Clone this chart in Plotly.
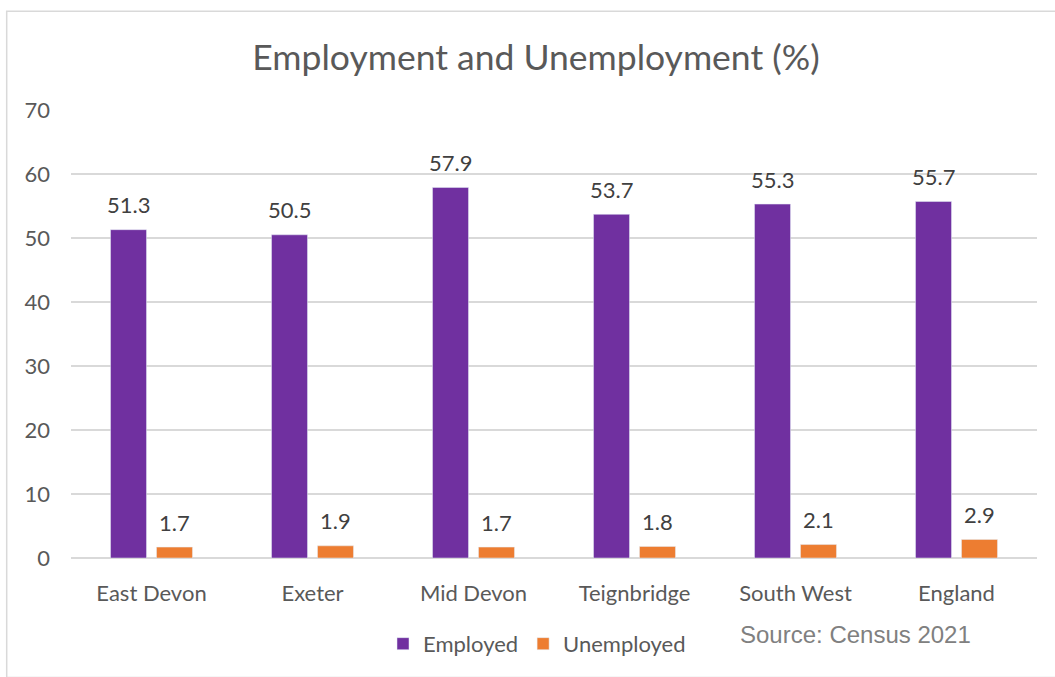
import plotly.graph_objects as go

categories = ["East Devon", "Exeter", "Mid Devon", "Teignbridge", "South West", "England"]
employed = [51.3, 50.5, 57.9, 53.7, 55.3, 55.7]
unemployed = [1.7, 1.9, 1.7, 1.8, 2.1, 2.9]
y_ticks = [0, 10, 20, 30, 40, 50, 60, 70]

W, H = 1055, 677
ML, MR, MT, MB = 71, 18, 110, 113
PW, PH = W - ML - MR, H - MT - MB

BARGAP = 0.429
BARGROUPGAP = 0.217
half_slot = (1 - BARGAP) / 4

FONT = "Lato"
PURPLE = "#7030A0"
ORANGE = "#ED7D31"

xs = list(range(len(categories)))

fig = go.Figure()
fig.add_trace(go.Bar(x=xs, y=employed, name="Employed", marker_color=PURPLE,
                     hoverinfo="y"))
fig.add_trace(go.Bar(x=xs, y=unemployed, name="Unemployed", marker_color=ORANGE,
                     hoverinfo="y"))

annotations = []
for series, sign in ((employed, -1), (unemployed, 1)):
    for i, v in enumerate(series):
        annotations.append(dict(
            x=i + sign * half_slot, y=v, xref="x", yref="y",
            text=f"{v:.1f}", showarrow=False, yanchor="middle", yshift=25,
            font=dict(family=FONT, size=22, color="#404040")))


def px_x(p):
    return (p - ML) / PW


def px_y(p):
    return (H - MB - p) / PH


annotations.append(dict(
    x=px_x(855), y=px_y(642), xref="paper", yref="paper",
    text="Source: Census 2021", showarrow=False, xanchor="center", yanchor="middle",
    font=dict(family="Liberation Sans, Arial", size=24, color="#808080")))

fig.update_layout(
    width=W, height=H,
    margin=dict(l=ML, r=MR, t=MT, b=MB),
    paper_bgcolor="white", plot_bgcolor="white",
    barmode="group", bargap=BARGAP, bargroupgap=BARGROUPGAP,
    title=dict(text="Employment and Unemployment (%)", x=536 / W, xanchor="center",
               y=1 - 58 / H, yanchor="middle", yref="container",
               font=dict(family=FONT, size=35.5, color="#595959")),
    xaxis=dict(range=[-0.5, len(categories) - 0.5], tickmode="array", tickvals=xs,
               ticktext=categories, showgrid=False, zeroline=False, showline=False,
               ticks="", ticklabelstandoff=20,
               tickfont=dict(family=FONT, size=22, color="#595959")),
    yaxis=dict(range=[0, 70], tickmode="array", tickvals=y_ticks,
               showgrid=True, gridcolor="#D9D9D9", gridwidth=1.5,
               zeroline=True, zerolinecolor="#D9D9D9", zerolinewidth=1.5,
               showline=False, ticks="", ticklabelstandoff=20,
               tickfont=dict(family=FONT, size=22, color="#595959")),
    legend=dict(orientation="h", x=px_x(537), xanchor="center",
                y=px_y(651), yanchor="middle",
                font=dict(family=FONT, size=22, color="#595959"),
                bgcolor="rgba(0,0,0,0)"),
    annotations=annotations,
    shapes=[dict(type="rect", xref="paper", yref="paper",
                 x0=px_x(6.7), x1=px_x(1062), y0=px_y(685), y1=px_y(10),
                 line=dict(color="#D9D9D9", width=1.5), layer="below")],
)

fig.write_html("out.html")
